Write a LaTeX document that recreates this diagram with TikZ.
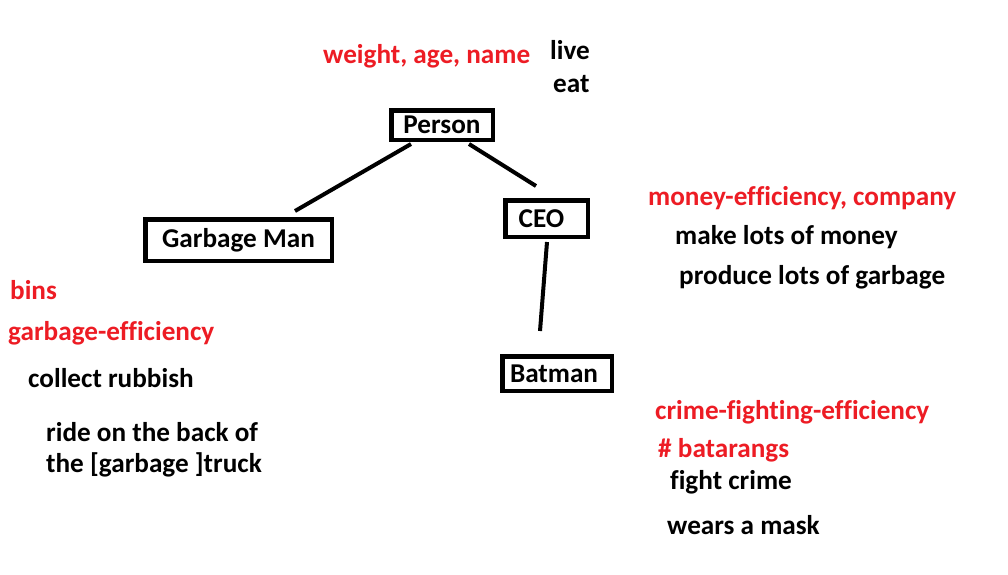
\documentclass[tikz,border=0pt]{standalone}
\usepackage{fontspec}
\setmainfont[Ligatures=NoCommon]{Carlito}
\usetikzlibrary{calc}
\definecolor{pred}{RGB}{237,28,36}
\tikzset{
  box/.style={draw=black, line width=4.5pt, inner sep=0pt, font=\fontsize{27.2}{32}\selectfont\bfseries},
  lbl/.style={anchor=base west, inner sep=0pt, font=\fontsize{27.2}{32}\selectfont\bfseries},
  attr/.style={lbl, text=pred},
  link/.style={line width=4pt}
}
\begin{document}
\begin{tikzpicture}[x=1pt, y=-1pt]
\useasboundingbox (0,0) rectangle (1008,574);
\fill[white] (0,0) rectangle (1008,574);
% class boxes
\node[box, minimum width=101.5pt, minimum height=29.5pt] (person) at (442,125) {Person};
\node[box, minimum width=186.5pt, minimum height=41.5pt] (gm) at (238.5,240) {Garbage Man};
\node[box, minimum width=82.5pt, minimum height=36.5pt] (ceo) at (546.5,218.5) {\hspace*{-10pt}CEO};
\node[box, minimum width=109.5pt, minimum height=34.5pt] (batman) at (557,373.5) {\hspace*{-6pt}Batman};
% connectors
\draw[link] ($(person.south)+(-31,2)$) -- ($(gm.north)+(56.5,-6)$);
\draw[link] ($(person.south)+(27,2)$) -- ($(ceo.north)+(-10.5,-12)$);
\draw[link] ($(ceo.south)+(0.5,3)$) -- ($(batman.north)+(-17,-23)$);
% Person
\node[attr] (pattr) at (323,63) {weight, age, name};
\node[lbl] (pm1) at (550,59) {live};
\node[lbl] (pm2) at (553,92) {eat};
% CEO
\node[attr] (cattr) at (648,205) {money-efficiency, company};
\node[lbl] (cm1) at (675,244) {make lots of money};
\node[lbl] (cm2) at (679,284) {produce lots of garbage};
% Garbage man
\node[attr] (ga1) at (10,299) {bins};
\node[attr] (ga2) at (8,340) {garbage-efficiency};
\node[lbl] (gm1) at (28,387) {collect rubbish};
\node[lbl, align=left, anchor=north west] (gm2) at (46,422) {ride on the back of\\[-1pt]the [garbage ]truck};
% Batman
\node[attr] (ba1) at (655,419) {crime-fighting-efficiency};
\node[attr] (ba2) at (658,457) {\# batarangs};
\node[lbl] (bm1) at (670,489) {fight crime};
\node[lbl] (bm2) at (667,534) {wears a mask};
\end{tikzpicture}
\end{document}
